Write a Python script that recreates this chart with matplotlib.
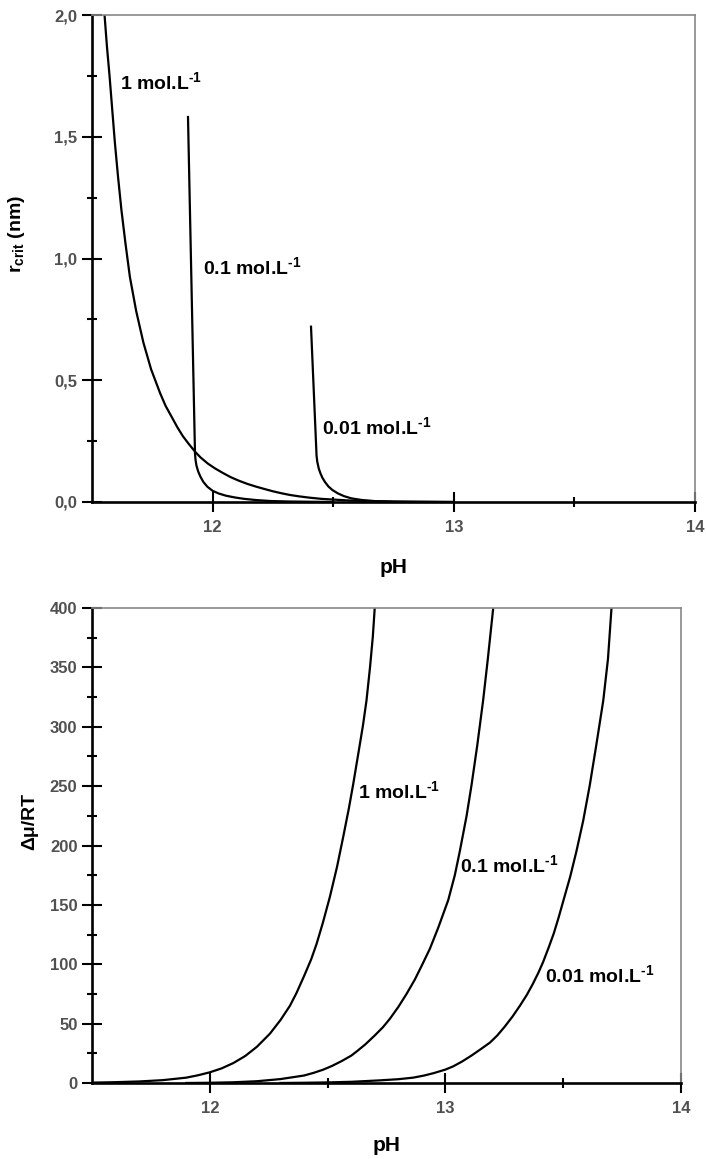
import matplotlib
matplotlib.use("Agg")
import matplotlib.pyplot as plt
from matplotlib.ticker import MultipleLocator, FixedLocator, FuncFormatter

plt.rcParams['font.family'] = ['Liberation Sans', 'DejaVu Sans']
plt.rcParams['mathtext.fontset'] = 'custom'
plt.rcParams['mathtext.rm'] = 'Liberation Sans:bold'
plt.rcParams['mathtext.bf'] = 'Liberation Sans:bold'
plt.rcParams['mathtext.default'] = 'bf'

# top panel: critical radius vs pH
ph_r_1 = [11.552, 11.562, 11.573, 11.584, 11.595, 11.608, 11.622, 11.639, 11.657, 11.683,
          11.713, 11.745, 11.782, 11.805, 11.830, 11.855, 11.877, 11.900, 11.927, 11.950,
          11.980, 12.010, 12.043, 12.075, 12.110, 12.145, 12.184, 12.220, 12.250, 12.285,
          12.320, 12.360, 12.400, 12.450, 12.500, 12.570, 12.650, 12.750, 12.850, 13.000]
r_1 = [2.00, 1.87, 1.747, 1.61, 1.474, 1.335, 1.199, 1.06, 0.925, 0.785,
       0.655, 0.545, 0.448, 0.395, 0.350, 0.305, 0.270, 0.240, 0.207, 0.183,
       0.158, 0.138, 0.119, 0.102, 0.087, 0.074, 0.062, 0.052, 0.044, 0.036,
       0.029, 0.023, 0.018, 0.013, 0.010, 0.006, 0.004, 0.002, 0.001, 0.0]

ph_r_01 = [11.898, 11.927, 11.929, 11.933, 11.940, 11.950, 11.962, 11.978, 12.000, 12.025,
           12.055, 12.090, 12.130, 12.180, 12.240, 12.320, 12.500]
r_01 = [1.581, 0.200, 0.175, 0.150, 0.126, 0.103, 0.082, 0.063, 0.046, 0.035,
        0.026, 0.019, 0.013, 0.008, 0.004, 0.002, 0.0]

ph_r_001 = [12.408, 12.431, 12.434, 12.440, 12.447, 12.455, 12.466, 12.480, 12.497, 12.520,
            12.545, 12.575, 12.620, 12.680, 12.760, 13.000]
r_001 = [0.720, 0.190, 0.165, 0.138, 0.118, 0.100, 0.082, 0.064, 0.049, 0.035,
         0.024, 0.015, 0.008, 0.003, 0.001, 0.0]

# bottom panel: supersaturation dmu/RT vs pH
ph_m_1 = [11.50, 11.60, 11.70, 11.80, 11.90, 11.95, 12.00, 12.05, 12.10, 12.15,
          12.20, 12.255, 12.30, 12.34, 12.368, 12.40, 12.43, 12.453, 12.48, 12.51,
          12.54, 12.566, 12.59, 12.609, 12.63, 12.65, 12.665, 12.68, 12.692, 12.70]
m_1 = [0.3, 0.7, 1.3, 2.4, 4.5, 6.5, 9.0, 12.3, 16.8, 22.7,
       30.5, 41.5, 53, 65, 75.8, 90, 104, 117, 135, 157,
       182, 207, 231, 252, 277, 301, 322, 350, 376, 400]

ph_m_01 = [11.90, 12.00, 12.10, 12.20, 12.30, 12.40, 12.44, 12.481, 12.52, 12.56,
           12.60, 12.623, 12.66, 12.70, 12.735, 12.764, 12.80, 12.835, 12.87, 12.90,
           12.934, 12.97, 13.012, 13.04, 13.061, 13.09, 13.111, 13.135, 13.16, 13.18,
           13.203]
m_01 = [0, 0.2, 0.6, 1.5, 3.3, 6.3, 8.5, 11.2, 14.5, 18.5,
        23, 26.5, 32.5, 40, 47, 54, 64, 75, 87, 99,
        113, 131, 154, 175, 195, 225, 251, 284, 322, 357,
        400]

ph_m_001 = [12.30, 12.40, 12.50, 12.60, 12.72, 12.80, 12.863, 12.91, 12.95, 13.00,
            13.033, 13.07, 13.11, 13.15, 13.189, 13.22, 13.25, 13.285, 13.316, 13.345,
            13.37, 13.395, 13.415, 13.44, 13.46, 13.48, 13.50, 13.53, 13.556, 13.585,
            13.613, 13.64, 13.67, 13.69, 13.705]
m_001 = [0, 0.2, 0.5, 1.0, 2.2, 3.2, 4.5, 6.3, 8.3, 11.3,
         14, 18, 23, 28.5, 34, 40, 47, 56, 65, 74,
         83, 93, 102, 115, 126, 139, 153, 174, 195, 221,
         251, 284, 322, 357, 400]

labels = ["1 mol.L$^{\\text{-1}}$", "0.1 mol.L$^{\\text{-1}}$", "0.01 mol.L$^{\\text{-1}}$"]

W, H = 706, 1159
fig = plt.figure(figsize=(W / 100, H / 100), dpi=100)
ax1 = fig.add_axes([92 / W, 1 - 502 / H, 603 / W, 487 / H])
ax2 = fig.add_axes([92 / W, 1 - 1083 / H, 589 / W, 475 / H])


def style(ax):
    for s in ['left', 'bottom']:
        ax.spines[s].set_linewidth(1.9)
        ax.spines[s].set_color('black')
    for s in ['top', 'right']:
        ax.spines[s].set_linewidth(1.2)
        ax.spines[s].set_color('#888888')
    ax.tick_params(which='major', direction='inout', length=14, width=1.5,
                   colors='black', labelcolor='#505050', labelsize=12,
                   top=False, right=False)
    ax.tick_params(axis='y', which='major', pad=3.5)
    ax.tick_params(axis='x', which='major', pad=6)
    ax.tick_params(which='minor', direction='inout', length=7, width=1.5,
                   top=False, right=False)
    for t in ax.get_xticklabels() + ax.get_yticklabels():
        t.set_fontweight('bold')
    ax.set_xlim(11.5, 14)
    ax.xaxis.set_major_locator(FixedLocator([12, 13, 14]))
    ax.xaxis.set_minor_locator(FixedLocator([12.5, 13.5]))


lw = 1.6
ax1.plot(ph_r_1, r_1, color='black', lw=lw)
ax1.plot(ph_r_01, r_01, color='black', lw=lw)
ax1.plot(ph_r_001, r_001, color='black', lw=lw)
ax1.set_ylim(0, 2.0)
ax1.yaxis.set_major_locator(MultipleLocator(0.5))
ax1.yaxis.set_minor_locator(MultipleLocator(0.25))
ax1.yaxis.set_major_formatter(FuncFormatter(lambda v, p: f"{v:.1f}".replace('.', ',')))
style(ax1)
ax1.set_xlabel("pH", fontsize=15, fontweight='bold')
ax1.xaxis.set_label_coords(0.5, -0.115)
ax1.set_ylabel("r$_{crit}$ (nm)", fontsize=14, fontweight='bold')
ax1.yaxis.set_label_coords(-0.108, 0.55)

ax1.text(11.616, 1.725, labels[0], fontsize=14, fontweight='bold', va='center')
ax1.text(11.96, 0.965, labels[1], fontsize=14, fontweight='bold', va='center')
ax1.text(12.453, 0.308, labels[2], fontsize=14, fontweight='bold', va='center')

ax2.plot(ph_m_1, m_1, color='black', lw=lw)
ax2.plot(ph_m_01, m_01, color='black', lw=lw)
ax2.plot(ph_m_001, m_001, color='black', lw=lw)
ax2.set_ylim(0, 400)
ax2.yaxis.set_major_locator(MultipleLocator(50))
ax2.yaxis.set_minor_locator(MultipleLocator(25))
style(ax2)
ax2.set_xlabel("pH", fontsize=15, fontweight='bold')
ax2.xaxis.set_label_coords(0.5, -0.112)
ax2.set_ylabel("Δμ/RT", fontsize=14, fontweight='bold')
ax2.yaxis.set_label_coords(-0.092, 0.55)

ax2.text(12.628, 245.6, labels[0], fontsize=14, fontweight='bold', va='center')
ax2.text(13.061, 183.8, labels[1], fontsize=14, fontweight='bold', va='center')
ax2.text(13.422, 91.2, labels[2], fontsize=14, fontweight='bold', va='center')

fig.savefig("out.png", dpi=100, facecolor='white')
